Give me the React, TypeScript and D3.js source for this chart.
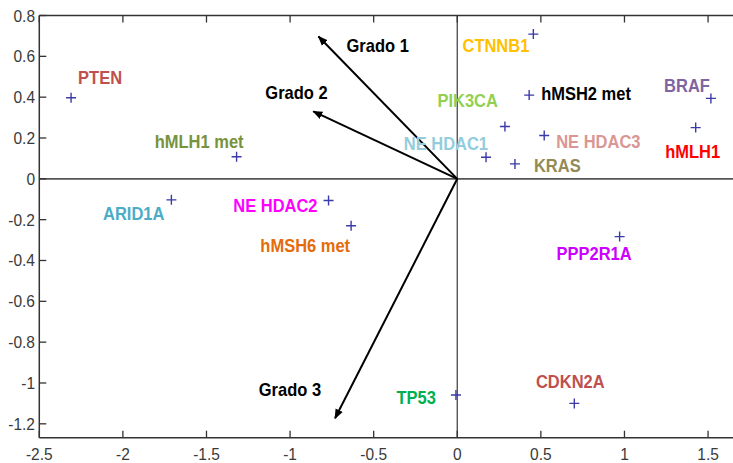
import React from 'react';
import * as d3 from 'd3';

// genes / variables and their biplot scores
const genes = ['PTEN', 'hMLH1 met', 'ARID1A', 'NE HDAC2', 'hMSH6 met', 'CTNNB1', 'PIK3CA', 'hMSH2 met',
  'BRAF', 'hMLH1', 'NE HDAC1', 'NE HDAC3', 'KRAS', 'PPP2R1A', 'TP53', 'CDKN2A'];
const geneX = [-2.31, -1.32, -1.71, -0.77, -0.635, 0.455, 0.285, 0.43, 1.517, 1.426, 0.172, 0.52, 0.345, 0.971, -0.008, 0.70];
const geneY = [0.397, 0.108, -0.103, -0.106, -0.23, 0.709, 0.256, 0.41, 0.394, 0.251, 0.106, 0.212, 0.073, -0.283, -1.059, -1.10];

// loading vectors
const grados = ['Grado 1', 'Grado 2', 'Grado 3'];
const gradoX = [-0.83, -0.861, -0.731];
const gradoY = [0.697, 0.33, -1.173];

const xTicks = [-2.5, -2, -1.5, -1, -0.5, 0, 0.5, 1, 1.5];
const yTicks = [0.8, 0.6, 0.4, 0.2, 0, -0.2, -0.4, -0.6, -0.8, -1, -1.2];

// label styling (colour, anchor, pixel offset from the marker)
const geneLabelStyle: Record<string, { color: string; anchor: string; dx: number; dy: number }> = {
  'PTEN': { color: '#c0504d', anchor: 'start', dx: 7, dy: -14 },
  'hMLH1 met': { color: '#77933c', anchor: 'end', dx: 7, dy: -9 },
  'ARID1A': { color: '#4bacc6', anchor: 'end', dx: -7, dy: 20 },
  'NE HDAC2': { color: '#ff00ff', anchor: 'end', dx: -11, dy: 12 },
  'hMSH6 met': { color: '#e46c0a', anchor: 'end', dx: -1, dy: 26 },
  'CTNNB1': { color: '#ffc000', anchor: 'end', dx: -4, dy: 18 },
  'PIK3CA': { color: '#92d050', anchor: 'end', dx: -7, dy: -20 },
  'hMSH2 met': { color: '#000000', anchor: 'start', dx: 12, dy: 5 },
  'BRAF': { color: '#8064a2', anchor: 'end', dx: -1, dy: -6 },
  'hMLH1': { color: '#ff0000', anchor: 'middle', dx: -3, dy: 30 },
  'NE HDAC1': { color: '#93cddd', anchor: 'end', dx: 2, dy: -7 },
  'NE HDAC3': { color: '#d99694', anchor: 'start', dx: 12, dy: 12 },
  'KRAS': { color: '#948a54', anchor: 'start', dx: 19, dy: 8 },
  'PPP2R1A': { color: '#cc00ff', anchor: 'end', dx: 12, dy: 23 },
  'TP53': { color: '#00b050', anchor: 'end', dx: -20, dy: 9 },
  'CDKN2A': { color: '#c0504d', anchor: 'middle', dx: -4, dy: -15 },
};
const gradoLabelOffset = [
  { anchor: 'start', dx: 28, dy: 15 },
  { anchor: 'start', dx: -48, dy: -12 },
  { anchor: 'end', dx: -14, dy: -22 },
];

const W = 733;
const H = 463;

// text slightly stretched vertically, like the source image
const Label = ({ x, y, anchor, size, weight, fill, children }: any) => (
  <text transform={`translate(${x},${y}) scale(1,1.08)`} textAnchor={anchor} fontSize={size}
    fontWeight={weight} fill={fill}>{children}</text>
);

export default function App() {
  const x = d3.scaleLinear().domain([-2.5, 1.7]).range([39.3, 741.5]);
  const y = d3.scaleLinear().domain([-1.268, 0.8]).range([437.7, 15.5]);
  const [x0, x1] = x.range();
  const [y0, y1] = y.range();
  const axisColor = '#333';
  const font = 'Liberation Sans, Arial, sans-serif';

  return (
    <svg width={W} height={H} style={{ position: 'absolute', left: 0, top: 0, background: '#fff' }}
      fontFamily={font}>
      <defs>
        <marker id="arrow" viewBox="0 0 10 10" refX="9" refY="5" markerWidth="5" markerHeight="5"
          orient="auto-start-reverse" markerUnits="strokeWidth">
          <path d="M0,1 L10,5 L0,9 Z" fill="#000" />
        </marker>
      </defs>
      <rect x={0} y={0} width={W} height={H} fill="#fff" />

      {/* zero lines */}
      <line x1={x0} x2={x1} y1={y(0)} y2={y(0)} stroke="#555" strokeWidth={1.6} />
      <line x1={x(0)} x2={x(0)} y1={y1} y2={y0} stroke="#555" strokeWidth={1.4} />

      {/* frame */}
      <line x1={x0} x2={x1} y1={y1} y2={y1} stroke={axisColor} strokeWidth={1.5} />
      <line x1={x0} x2={x1} y1={y0} y2={y0} stroke={axisColor} strokeWidth={1.5} />
      <line x1={x0} x2={x0} y1={y1} y2={y0} stroke={axisColor} strokeWidth={1.5} />

      {/* x ticks */}
      {xTicks.map(t => (
        <g key={'xt' + t}>
          <line x1={x(t)} x2={x(t)} y1={y0} y2={y0 - 7} stroke={axisColor} strokeWidth={1.3} />
          <line x1={x(t)} x2={x(t)} y1={y1} y2={y1 + 7} stroke={axisColor} strokeWidth={1.3} />
          <Label x={x(t)} y={460} anchor="middle" size={15.5} fill="#3a3a3a">{t}</Label>
        </g>
      ))}
      {/* y ticks */}
      {yTicks.map(t => (
        <g key={'yt' + t}>
          <line x1={x0} x2={x0 + 7} y1={y(t)} y2={y(t)} stroke={axisColor} strokeWidth={1.3} />
          <Label x={35} y={y(t) + 6} anchor="end" size={15.5} fill="#3a3a3a">{t}</Label>
        </g>
      ))}

      {/* loading arrows */}
      {grados.map((g, i) => {
        const o = gradoLabelOffset[i];
        return (
          <g key={g}>
            <line x1={x(0)} y1={y(0)} x2={x(gradoX[i])} y2={y(gradoY[i])} stroke="#000" strokeWidth={2}
              markerEnd="url(#arrow)" />
            <Label x={x(gradoX[i]) + o.dx} y={y(gradoY[i]) + o.dy} anchor={o.anchor} size={16.5}
              weight="bold" fill="#000">{g}</Label>
          </g>
        );
      })}

      {/* gene points */}
      {genes.map((g, i) => {
        const px = x(geneX[i]);
        const py = y(geneY[i]);
        const s = geneLabelStyle[g];
        return (
          <g key={g}>
            <path d={`M${px - 5},${py}H${px + 5}M${px},${py - 5}V${py + 5}`} stroke="#3a3aa8" strokeWidth={1.4} />
            <Label x={px + s.dx} y={py + s.dy} anchor={s.anchor} size={16.5} weight="bold"
              fill={s.color}>{g}</Label>
          </g>
        );
      })}
    </svg>
  );
}
